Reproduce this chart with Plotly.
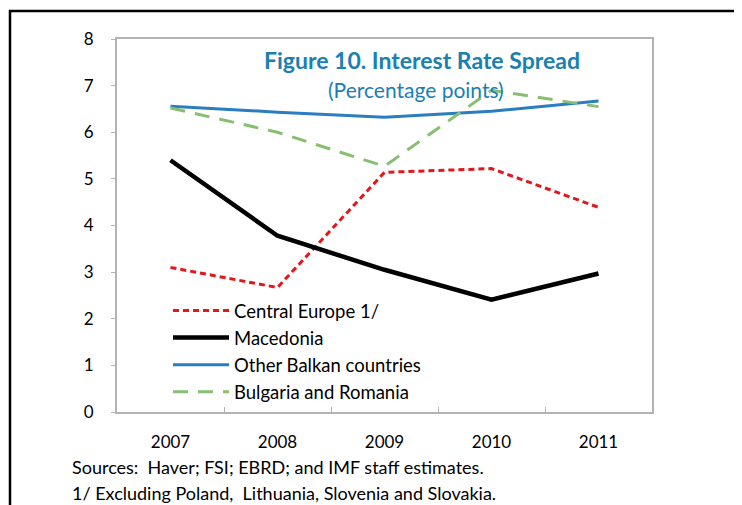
import plotly.graph_objects as go

years = ["2007", "2008", "2009", "2010", "2011"]
central_europe = [3.10, 2.67, 5.14, 5.22, 4.39]
macedonia = [5.40, 3.78, 3.05, 2.41, 2.97]
other_balkan = [6.56, 6.43, 6.32, 6.45, 6.67]
bulgaria_romania = [6.52, 6.00, 5.27, 6.90, 6.55]
y_ticks = [0, 1, 2, 3, 4, 5, 6, 7, 8]

W, H = 742, 505
OFF = 8  # page body margin
L, R, T, B = 117, 652, 39, 412
FONT = "Lato"


def px(x):
    return (x - L) / (R - L)


def py(y):
    return (B - y) / (B - T)


fig = go.Figure()
fig.add_trace(go.Scatter(x=years, y=central_europe, name="Central Europe 1/", mode="lines",
                         line=dict(color="#e3161b", width=3, dash="6px,4px"), legendgroup="a"))
fig.add_trace(go.Scatter(x=years, y=macedonia, name="Macedonia", mode="lines",
                         line=dict(color="#000000", width=4.5), legendgroup="b"))
fig.add_trace(go.Scatter(x=years, y=other_balkan, name="Other Balkan countries", mode="lines",
                         line=dict(color="#2a7dc0", width=3), legendgroup="c"))
fig.add_trace(go.Scatter(x=years, y=bulgaria_romania, name="Bulgaria and Romania", mode="lines",
                         line=dict(color="#86bf72", width=3, dash="15px,10px"), legendgroup="d"))

fig.update_layout(
    width=W - OFF, height=H - OFF,
    margin=dict(l=L - OFF, r=W - R, t=T - OFF, b=H - B),
    paper_bgcolor="white", plot_bgcolor="white",
    font=dict(family=FONT, size=16, color="#000000"),
    showlegend=True,
    legend=dict(x=px(168), y=py(292), xanchor="left", yanchor="top",
                bgcolor="rgba(0,0,0,0)", font=dict(size=18.5, family=FONT),
                traceorder="grouped", tracegroupgap=0, itemwidth=56),
    xaxis=dict(type="category", range=[-0.5, 4.5], showgrid=False,
               ticks="inside", tickson="boundaries", ticklen=5, tickcolor="#b3b3b3",
               showline=True, linecolor="#b3b3b3", linewidth=2, mirror=True,
               ticklabelstandoff=14, tickfont=dict(size=17)),
    yaxis=dict(range=[0, 8], tickvals=y_ticks, showgrid=False, zeroline=False,
               ticks="outside", ticklen=4, tickcolor="#b3b3b3",
               showline=True, linecolor="#b3b3b3", linewidth=2, mirror=True,
               ticklabelstandoff=14, tickfont=dict(size=17)),
)

fig.add_annotation(text="<b>Figure 10. Interest Rate Spread</b>", xref="paper", yref="paper",
                   x=px(422), y=py(60), xanchor="center", yanchor="middle", showarrow=False,
                   font=dict(size=23, color="#1a80b2", family=FONT))
fig.add_annotation(text="(Percentage points)", xref="paper", yref="paper",
                   x=px(416), y=py(89), xanchor="center", yanchor="middle", showarrow=False,
                   font=dict(size=21, color="#1a80b2", family=FONT))
fig.add_annotation(text="Sources:  Haver; FSI; EBRD; and IMF staff estimates.", xref="paper", yref="paper",
                   x=px(70), y=py(467), xanchor="left", yanchor="middle", showarrow=False,
                   font=dict(size=18, family=FONT))
fig.add_annotation(text="1/ Excluding Poland,  Lithuania, Slovenia and Slovakia.", xref="paper", yref="paper",
                   x=px(70), y=py(493), xanchor="left", yanchor="middle", showarrow=False,
                   font=dict(size=18, family=FONT))

fig.add_shape(type="line", xref="paper", yref="paper", x0=px(9), x1=px(742), y0=py(11), y1=py(11),
              line=dict(color="black", width=2.5))
fig.add_shape(type="line", xref="paper", yref="paper", x0=px(10), x1=px(10), y0=py(10), y1=py(505),
              line=dict(color="black", width=2.5))

fig.write_html("out.html")
